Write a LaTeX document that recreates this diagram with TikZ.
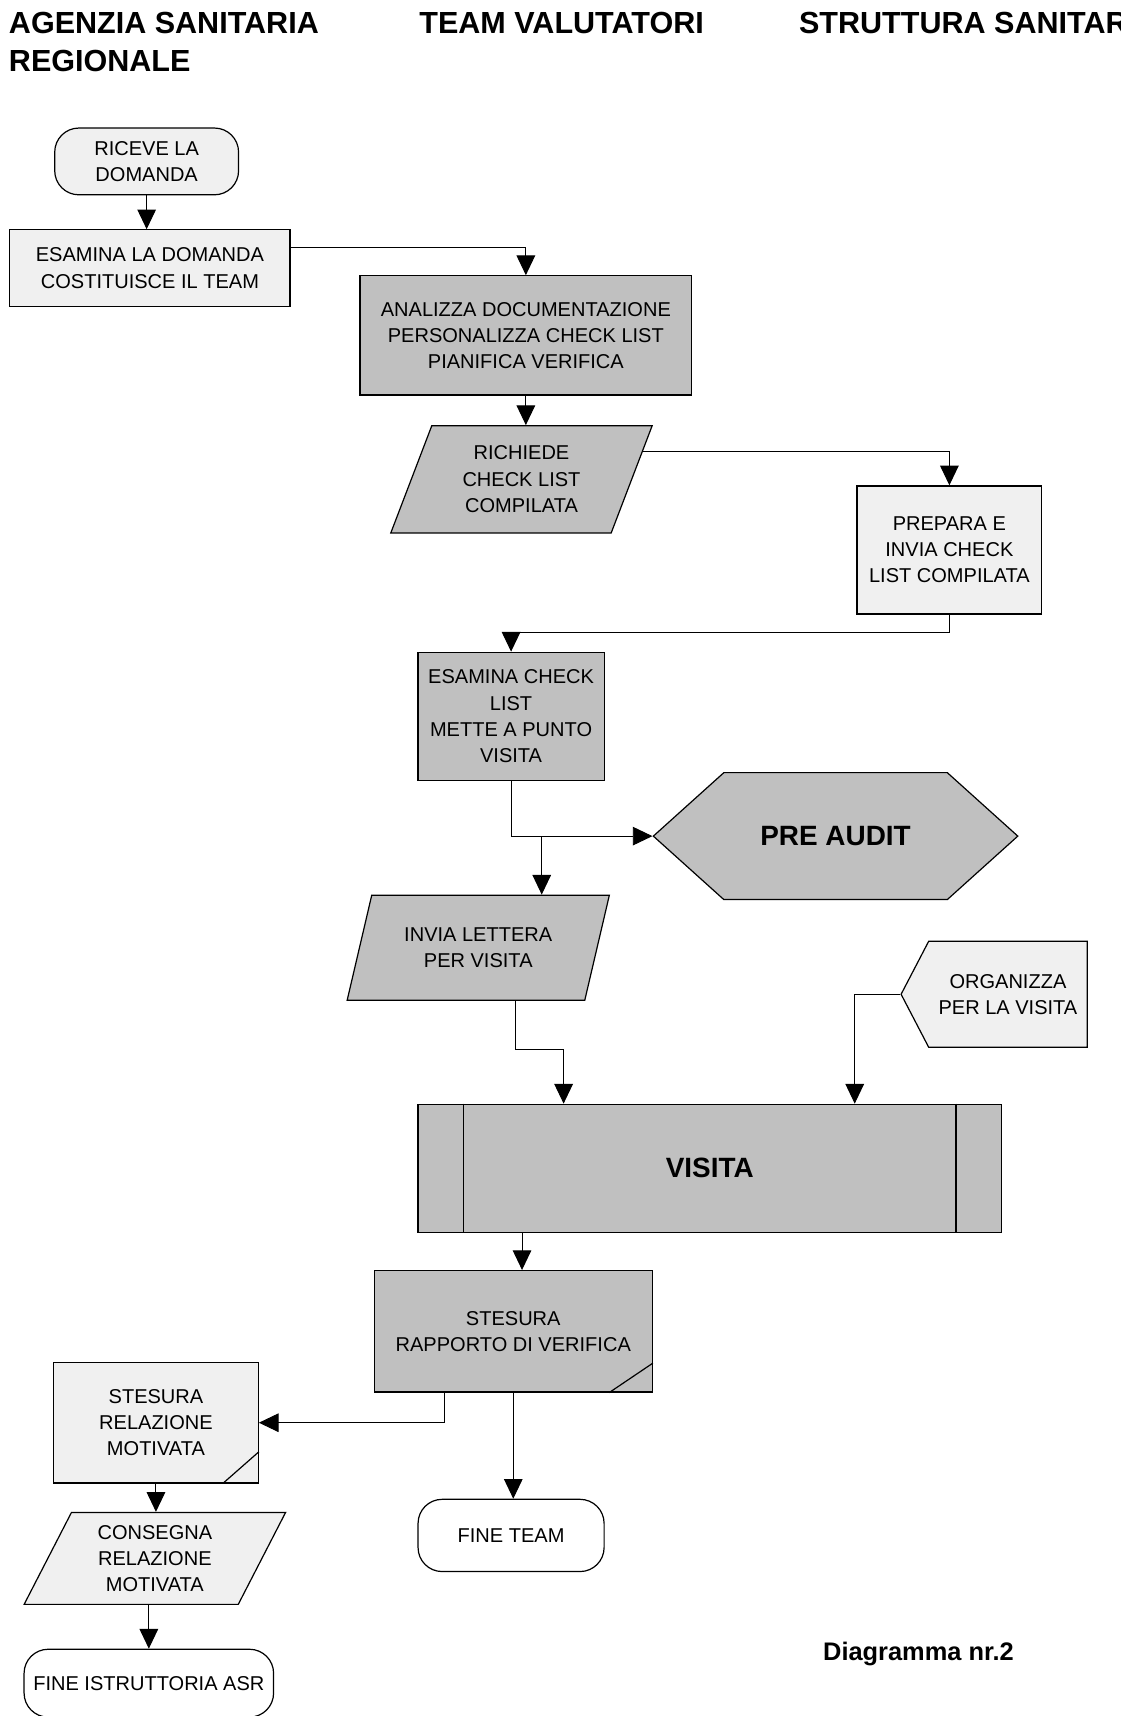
\documentclass[tikz,border=0pt]{standalone}
\usepackage{fontspec}
\setmainfont{Liberation Sans}
\usetikzlibrary{shapes.geometric,shapes.symbols,arrows.meta,calc}

\begin{document}
\begin{tikzpicture}[x=1pt,y=-1pt,
    box/.style={draw, line width=1.1pt, inner sep=0pt, align=center,
        font=\fontsize{18.3}{24}\selectfont},
    proc/.style={box, rectangle},
    term/.style={box, rectangle, rounded corners=22pt},
    io/.style={box, trapezium, trapezium stretches=true},
    bigtext/.style={font=\fontsize{25.5}{30}\selectfont\bfseries},
    link/.style={line width=0.9pt, -{Triangle[length=18pt,width=17pt]}},
    title/.style={font=\fontsize{27.9}{35}\selectfont\bfseries, inner sep=0pt, align=left}]
    % Define colors
    \definecolor{boxlight}{RGB}{240,240,240}
    \definecolor{boxdark}{RGB}{192,192,192}

    % Page frame
    \useasboundingbox (0,0) rectangle (1024,1568);
    \clip (0,0) rectangle (1024,1568);

    % Column titles
    \node[title, anchor=north west] (asr) at (8,11) {AGENZIA SANITARIA\\REGIONALE};
    \node[title, anchor=north west] (team) at (383,11) {TEAM VALUTATORI};
    \node[title, anchor=north west] (struttura) at (730,11) {STRUTTURA SANITARIA};

    % Agenzia sanitaria - start
    \node[term, fill=boxlight, minimum width=168pt, minimum height=61pt] (riceve) at (134,147.5) {RICEVE LA\\DOMANDA};
    \node[proc, fill=boxlight, minimum width=256pt, minimum height=70pt] (esamina) at (137,245) {ESAMINA LA DOMANDA\\COSTITUISCE IL TEAM};

    % Team valutatori - preparation
    \node[proc, fill=boxdark, minimum width=303pt, minimum height=109pt] (analizza) at (480.5,306.5) {ANALIZZA DOCUMENTAZIONE\\PERSONALIZZA CHECK LIST\\PIANIFICA VERIFICA};
    \node[io, fill=boxdark, trapezium left angle=68, trapezium right angle=112,
        minimum width=239pt, minimum height=98pt] (richiede) at (476.5,438) {RICHIEDE\\CHECK LIST\\COMPILATA};
    \node[proc, fill=boxlight, minimum width=169pt, minimum height=117pt] (prepara) at (867.5,502.5) {PREPARA E\\INVIA CHECK\\LIST COMPILATA};
    \node[proc, fill=boxdark, minimum width=170pt, minimum height=117pt] (esamcheck) at (467,654.5) {ESAMINA CHECK\\LIST\\METTE A PUNTO\\VISITA};
    \node[box, bigtext, fill=boxdark, signal, signal to=west and east, signal pointer angle=84,
        minimum width=333pt, minimum height=116pt] (preaudit) at (763.5,764) {PRE AUDIT};
    \node[io, fill=boxdark, trapezium left angle=67, trapezium right angle=113,
        minimum width=240pt, minimum height=96pt] (invia) at (437,866) {INVIA LETTERA\\PER VISITA};
    \node[box, fill=boxlight, signal, signal to=west, signal pointer angle=125,
        minimum width=170pt, minimum height=97pt] (organizza) at (921,908.5) {ORGANIZZA\\PER LA VISITA};

    % Visit
    \node[proc, bigtext, fill=boxdark, minimum width=533pt, minimum height=117pt] (visita) at (648.5,1067.5) {VISITA};
    \draw[line width=1.1pt] ([xshift=42pt]visita.north west) -- ([xshift=42pt]visita.south west);
    \draw[line width=1.1pt] ([xshift=-42pt]visita.north east) -- ([xshift=-42pt]visita.south east);

    % Reports and ends
    \node[proc, fill=boxdark, minimum width=254pt, minimum height=111pt] (rapporto) at (469,1216.5) {STESURA\\RAPPORTO DI VERIFICA};
    \draw[line width=1.1pt] ([xshift=-40pt]rapporto.south east) -- ([yshift=27pt]rapporto.south east);
    \node[proc, fill=boxlight, minimum width=187pt, minimum height=110pt] (relazione) at (142.5,1300) {STESURA\\RELAZIONE\\MOTIVATA};
    \draw[line width=1.1pt] ([xshift=-33pt]relazione.south east) -- ([yshift=29pt]relazione.south east);
    \node[io, fill=boxlight, trapezium left angle=64, trapezium right angle=116,
        minimum width=239pt, minimum height=84pt] (consegna) at (141.5,1424) {CONSEGNA\\RELAZIONE\\MOTIVATA};
    \node[term, fill=white, minimum width=170pt, minimum height=66pt] (fineteam) at (467,1403) {FINE TEAM};
    \node[term, fill=white, minimum width=228pt, minimum height=62pt] (fineasr) at (136,1538) {FINE ISTRUTTORIA ASR};

    \node[anchor=base west, inner sep=0pt, font=\fontsize{23.2}{28}\selectfont\bfseries] (diagnr) at (752,1517) {Diagramma nr.2};

    % Connectors
    \path (esamcheck.south |- preaudit.west) ++(28,0) coordinate (split);
    \path (rapporto.north) ++(8,0) coordinate (rapin);

    \draw[link] (riceve.south) -- (riceve.south |- esamina.north);
    \draw[link] ([yshift=19pt]esamina.east) -| (analizza.north);
    \draw[link] (analizza.south) -- (analizza.south |- richiede.north);
    \draw[link] ($(richiede.top right corner)!0.245!(richiede.bottom right corner)$) -| (prepara.north);
    \draw[link] (prepara.south) -- ++(0,16) -| (esamcheck.north);
    \draw[link] (esamcheck.south) |- (preaudit.west);
    \draw[link] (split) -- (split |- invia.north);
    \draw[link] ([xshift=34pt]invia.south) -- ++(0,44) -| ([xshift=-133.5pt]visita.north);
    \draw[link] (organizza.west) -| ([xshift=132.5pt]visita.north);
    \draw[link] (rapin |- visita.south) -- (rapin);
    \draw[link] ([xshift=-63pt]rapporto.south) |- (relazione.east);
    \draw[link] (rapporto.south) -- (rapporto.south |- fineteam.north);
    \draw[link] (relazione.south) -- (relazione.south |- consegna.north);
    \draw[link] (fineasr.north |- consegna.south) -- (fineasr.north);

\end{tikzpicture}
\end{document}
